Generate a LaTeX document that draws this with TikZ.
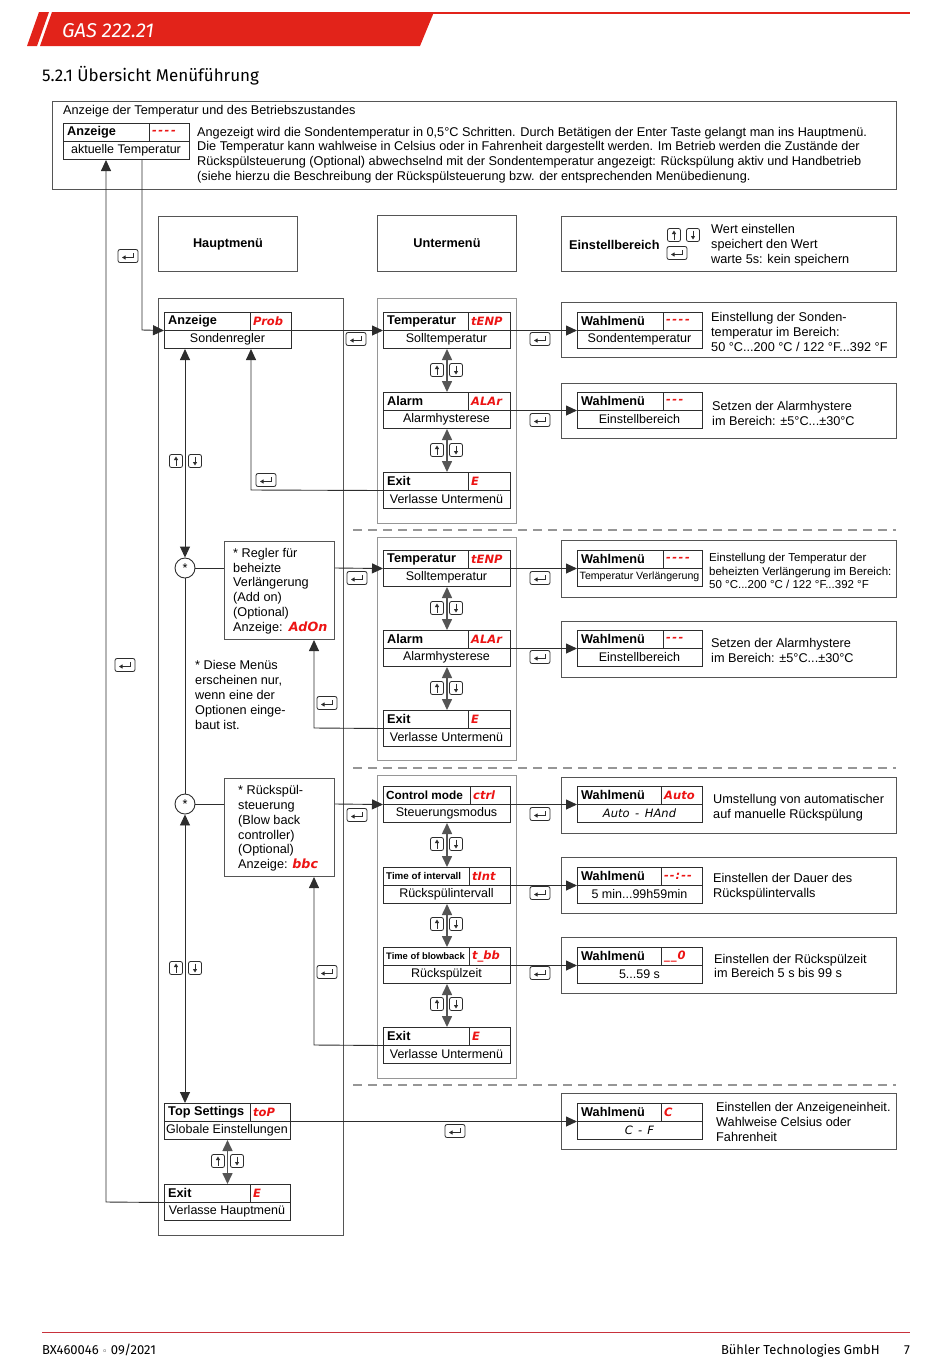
\documentclass[tikz,border=0pt]{standalone}
\usepackage{fontspec}
\setmainfont{Liberation Sans}
\newfontfamily\fira{Fira Sans}
\newfontfamily\segf{DejaVu Sans}
\newfontfamily\dejavu{DejaVu Sans}
\usetikzlibrary{arrows.meta}
\definecolor{hdrred}{RGB}{226,35,26}
\definecolor{segred}{RGB}{236,20,20}
\definecolor{dk}{RGB}{45,45,45}
\definecolor{mid}{RGB}{85,85,85}
\definecolor{lt}{RGB}{150,150,150}
\definecolor{ftred}{RGB}{200,50,60}
\newcommand\segtxt[1]{{\segf\bfseries\itshape\color{segred}#1}}
\newcommand\dbox[8]{%
  \node[dispbox, minimum width=#4pt, anchor=north west] (#1) at (#2,#3) {};
  \draw[boxline] (#1.west) -- (#1.east);
  \draw[boxline] (#5,#3) -- (#5,#3+18);
  \node[toplbl, anchor=west] (#1-t) at (#2+4,#3+9) {#6};
  \node[seg, anchor=west] (#1-r) at (#5+3,#3+9.5) {#7};
  \node[botlbl] (#1-b) at (#2+#4/2,#3+27) {#8};
}
\tikzset{
  boxline/.style={draw=dk, line width=1pt},
  dispbox/.style={draw=dk, line width=1pt, rectangle, inner sep=0pt, minimum height=36pt},
  frame/.style={draw=mid, line width=1pt, rectangle, inner sep=0pt, anchor=north west},
  lframe/.style={draw=lt, line width=1pt, rectangle, inner sep=0pt, anchor=north west},
  toplbl/.style={font=\fontsize{12.7}{14}\selectfont\bfseries, inner sep=0pt},
  botlbl/.style={font=\fontsize{12.5}{14}\selectfont, inner sep=0pt},
  seg/.style={font=\segf\bfseries\itshape\fontsize{11.5}{12}\selectfont, text=segred, inner sep=0pt},
  txt/.style={font=\fontsize{12.7}{14.8}\selectfont, inner sep=0pt, align=left, anchor=west},
  smtxt/.style={font=\fontsize{11.5}{13.5}\selectfont, inner sep=0pt, align=left, anchor=west},
  conn/.style={draw=dk, line width=0.9pt},
  arr/.style={conn, -{Triangle[length=11pt,width=10pt]}},
  mainarr/.style={conn, {Triangle[length=11pt,width=10pt]}-{Triangle[length=11pt,width=10pt]}},
  darr/.style={draw=mid, line width=1.6pt, {Triangle[length=11pt,width=10pt]}-{Triangle[length=11pt,width=10pt]}},
  dashsep/.style={draw=lt, line width=1.3pt, dash pattern=on 9pt off 6pt},
  star/.style={circle, draw=dk, line width=0.9pt, minimum size=20pt, inner sep=0pt, font=\fontsize{12.7}{12}\selectfont},
  upkey/.pic={\draw[draw=dk, line width=0.8pt, rounded corners=2pt, fill=white] (-6.5,-6.5) rectangle (6.5,6.5);
              \draw[draw=dk, line width=1pt, -{Triangle[length=3.5pt,width=4pt]}] (0,4.5) -- (0,-4.5);},
  downkey/.pic={\draw[draw=dk, line width=0.8pt, rounded corners=2pt, fill=white] (-6.5,-6.5) rectangle (6.5,6.5);
              \draw[draw=dk, line width=1pt, -{Triangle[length=3.5pt,width=4pt]}] (0,-4.5) -- (0,4.5);},
  enterkey/.pic={\draw[draw=dk, line width=0.8pt, rounded corners=2pt, fill=white] (-10,-6.5) rectangle (10,6.5);
              \draw[draw=dk, line width=1pt, -{Triangle[length=3.5pt,width=4pt]}] (5,-3) -- (5,1.5) -- (-6,1.5);},
}
\begin{document}
\begin{tikzpicture}[x=1pt,y=-1pt]
\useasboundingbox (0,0) rectangle (950,1369);
% header
\fill[hdrred] (39,12) -- (49,12) -- (37,46) -- (27,46) -- cycle;
\fill[hdrred] (52,12) -- (434,12) -- (420,46) -- (40,46) -- cycle;
\draw[hdrred, line width=2pt] (430,13) -- (910,13);
\node[font=\fira\itshape\fontsize{20}{20}\selectfont, text=white, anchor=base west, inner sep=0pt] (hdr) at (62,37) {GAS 222.21};
\node[font=\fira\fontsize{17}{20}\selectfont, anchor=base west, inner sep=0pt] (title) at (42,81) {5.2.1 Übersicht Menüführung};
% top box
\node[frame, minimum width=844pt, minimum height=88pt] (topbox) at (52,101) {};
\node[txt] (toptitle) at (63,111) {Anzeige der Temperatur und des Betriebszustandes};
\dbox{td}{63}{123}{126}{149}{Anzeige}{-\kern1.5pt-\kern1.5pt-\kern1.5pt-}{aktuelle Temperatur}
\node[txt] (toptext) at (197,155) {Angezeigt wird die Sondentemperatur in 0,5°C Schritten. Durch Betätigen der Enter Taste gelangt man ins Hauptmenü.\\
Die Temperatur kann wahlweise in Celsius oder in Fahrenheit dargestellt werden. Im Betrieb werden die Zustände der\\
Rückspülsteuerung (Optional) abwechselnd mit der Sondentemperatur angezeigt: Rückspülung aktiv und Handbetrieb\\
(siehe hierzu die Beschreibung der Rückspülsteuerung bzw. der entsprechenden Menübedienung.};
% column headers
\node[frame, minimum width=139pt, minimum height=55pt] (hm) at (158,216) {};
\node[toplbl] (hmt) at (hm.center) {Hauptmenü};
\node[frame, minimum width=139pt, minimum height=56pt] (um) at (377,215) {};
\node[toplbl] (umt) at (um.center) {Untermenü};
\node[frame, minimum width=335pt, minimum height=55pt] (eb) at (561,216) {};
\node[toplbl, anchor=west] (ebt) at (569,245) {Einstellbereich};
\node[txt] (ebx) at (711,245) {Wert einstellen\\ speichert den Wert\\ warte 5s: kein speichern};
% columns
\node[frame, minimum width=185pt, minimum height=937pt] (hcol) at (158,298) {};
\node[lframe, minimum width=139pt, minimum height=225pt] (ucol1) at (377,298) {};
\node[lframe, minimum width=139pt, minimum height=223pt] (ucol2) at (377,537) {};
\node[lframe, minimum width=139pt, minimum height=303pt] (ucol3) at (377,775) {};
% separators
\draw[dashsep] (353,530) -- (896,530);
\draw[dashsep] (353,768) -- (896,768);
\draw[dashsep] (353,1085) -- (896,1085);
% main menu boxes
\dbox{anz}{164}{312}{127}{250}{Anzeige}{Prob}{Sondenregler}
\dbox{ts}{164}{1103}{126}{250}{Top Settings}{toP}{Globale Einstellungen}
\dbox{eh}{164}{1184}{126}{250}{Exit}{E}{Verlasse Hauptmenü}
\node[star] (c1) at (185,568) {*};
\node[star] (c2) at (185,804) {*};
\node[frame, minimum width=110pt, minimum height=98pt] (rg) at (224,541) {};
\node[txt] (rgt) at (233,591) {* Regler für\\beheizte\\Verlängerung\\(Add on)\\(Optional)\\Anzeige:\enspace\segtxt{AdOn}};
\node[frame, minimum width=110pt, minimum height=98pt] (rb) at (224,778) {};
\node[txt] (rbt) at (238,828.5) {* Rückspül-\\steuerung\\(Blow back\\controller)\\(Optional)\\Anzeige: \segtxt{bbc}};
\node[txt] (note) at (195,695) {* Diese Menüs\\erscheinen nur,\\wenn eine der\\Optionen einge-\\baut ist.};
% submenu boxes
\dbox{t1}{383}{312}{127}{468}{Temperatur}{tENP}{Solltemperatur}
\dbox{a1}{383}{392}{127}{468}{Alarm}{ALAr}{Alarmhysterese}
\dbox{e1}{383}{472}{127}{468}{Exit}{E}{Verlasse Untermenü}
\dbox{t2}{383}{550}{127}{468}{Temperatur}{tENP}{Solltemperatur}
\dbox{a2}{383}{630}{127}{468}{Alarm}{ALAr}{Alarmhysterese}
\dbox{e2}{383}{710}{127}{468}{Exit}{E}{Verlasse Untermenü}
\dbox{cm}{383}{786}{127}{470}{\hspace*{-1pt}\fontsize{11.8}{12}\selectfont Control mode}{ctrl}{Steuerungsmodus}
\dbox{ti}{383}{867}{127}{469}{\hspace*{-1pt}\fontsize{9.8}{11}\selectfont Time of intervall}{tInt}{Rückspülintervall}
\dbox{tb}{383}{947}{127}{469}{\hspace*{-1pt}\fontsize{9.4}{11}\selectfont Time of blowback}{t\_bb}{Rückspülzeit}
\dbox{e3}{383}{1027}{127}{469}{Exit}{E}{Verlasse Untermenü}
% setting frames
\node[frame, minimum width=335pt, minimum height=55pt] (f1) at (561,302) {};
\node[frame, minimum width=335pt, minimum height=55pt] (f2) at (561,383) {};
\node[frame, minimum width=335pt, minimum height=57pt] (f3) at (561,540) {};
\node[frame, minimum width=335pt, minimum height=56pt] (f4) at (561,621) {};
\node[frame, minimum width=335pt, minimum height=56pt] (f5) at (561,777) {};
\node[frame, minimum width=335pt, minimum height=56pt] (f6) at (561,857) {};
\node[frame, minimum width=335pt, minimum height=56pt] (f7) at (561,937) {};
\node[frame, minimum width=335pt, minimum height=56pt] (f8) at (561,1093) {};
\dbox{w1}{577}{312}{125}{663}{Wahlmenü}{-\kern1.5pt-\kern1.5pt-\kern1.5pt-}{Sondentemperatur}
\dbox{w2}{577}{392}{125}{663}{Wahlmenü}{-\kern1.5pt-\kern1.5pt-}{Einstellbereich}
\dbox{w3}{577}{550}{125}{663}{Wahlmenü}{-\kern1.5pt-\kern1.5pt-\kern1.5pt-}{\fontsize{10.6}{11}\selectfont Temperatur Verlängerung}
\dbox{w4}{577}{630}{125}{663}{Wahlmenü}{-\kern1.5pt-\kern1.5pt-}{Einstellbereich}
\dbox{w5}{577}{786}{125}{661}{Wahlmenü}{Auto}{{\segf\itshape\fontsize{11.5}{12}\selectfont Auto\, -\, HAnd}}
\dbox{w6}{577}{867}{125}{661}{Wahlmenü}{-\kern1pt-\kern1pt:\kern1pt-\kern1pt-}{5 min...99h59min}
\dbox{w7}{577}{947}{125}{661}{Wahlmenü}{\_\kern1pt\_\kern1pt0}{5...59 s}
\dbox{w8}{577}{1103}{125}{661}{Wahlmenü}{C}{{\segf\itshape\fontsize{11.5}{12}\selectfont C\;\,-\;\,F}}
\node[txt] (x1) at (711,332) {Einstellung der Sonden-\\temperatur im Bereich:\\50 °C...200 °C / 122 °F...392 °F};
\node[txt] (x2) at (712,413.5) {Setzen der Alarmhystere\\im Bereich: ±5°C...±30°C};
\node[smtxt] (x3) at (709,571) {Einstellung der Temperatur der\\beheizten Verlängerung im Bereich:\\50 °C...200 °C / 122 °F...392 °F};
\node[txt] (x4) at (711,650.5) {Setzen der Alarmhystere\\im Bereich: ±5°C...±30°C};
\node[txt] (x5) at (713,807.5) {Umstellung von automatischer\\auf manuelle Rückspülung};
\node[txt] (x6) at (713,887) {Einstellen der Dauer des\\Rückspülintervalls};
\node[txt] (x7) at (714,966) {Einstellen der Rückspülzeit\\im Bereich 5 s bis 99 s};
\node[txt] (x8) at (716,1122) {Einstellen der Anzeigeneinheit.\\Wahlweise Celsius oder\\Fahrenheit};
% connectors
\coordinate (p1) at (142,330);
\draw[arr] (td.south -| p1) -- (p1) -- (anz.west);
\coordinate (p2) at (106,1202);
\draw[arr] (eh.west) -- (p2) -- (p2 |- td.south);
\draw[arr] (anz.east) -- (t1.west);
\draw[arr] (t1.east) -- (w1.west);
\draw[arr] (a1.east) -- (w2.west);
\draw[darr] (t1.south) -- (a1.north);
\draw[darr] (a1.south) -- (e1.north);
\coordinate (p3) at (251,490);
\draw[arr] (e1.west) -- (p3) -- (p3 |- anz.south);
\draw[mainarr] (anz.south -| c1) -- (c1.north);
\draw[conn] (c1.south) -- (c2.north);
\draw[mainarr] (c2.south) -- (ts.north -| c2);
\draw[conn] (c1.east) -- (c1 -| rg.west);
\draw[arr] (c1 -| rg.east) -- (t2.west);
\draw[arr] (t2.east) -- (w3.west);
\draw[arr] (a2.east) -- (w4.west);
\draw[darr] (t2.south) -- (a2.north);
\draw[darr] (a2.south) -- (e2.north);
\coordinate (p4) at (314,728);
\draw[arr] (e2.west) -- (p4) -- (p4 |- rg.south);
\draw[conn] (c2.east) -- (c2 -| rb.west);
\draw[arr] (c2 -| rb.east) -- (cm.west);
\draw[arr] (cm.east) -- (w5.west);
\draw[arr] (ti.east) -- (w6.west);
\draw[arr] (tb.east) -- (w7.west);
\draw[darr] (cm.south) -- (ti.north);
\draw[darr] (ti.south) -- (tb.north);
\draw[darr] (tb.south) -- (e3.north);
\coordinate (p5) at (314,1045);
\draw[arr] (e3.west) -- (p5) -- (p5 |- rb.south);
\draw[arr] (ts.east) -- (w8.west);
\draw[darr] (ts.south) -- (eh.north);
% keys
\foreach \kx/\ky in {128/256,356/339,540/339,540/420,266/480,125/665,357/578,540/578,540/657,327/703,357/815,540/814,540/893,327/972,540/973,455/1131,677/253}
  \pic at (\kx,\ky) {enterkey};
\foreach \kx/\ky in {176/461,437/370,437/450,437/608,437/688,176/968,437/844,437/924,437/1004,218/1161,674/235}
  {\pic at (\kx,\ky) {upkey}; \pic at (\kx+19,\ky) {downkey};}
% footer
\draw[ftred, line width=1pt] (42,1332) -- (910,1332);
\node[font=\fira\fontsize{13}{14}\selectfont, anchor=base west, inner sep=0pt] (ft1) at (42,1354) {BX460046 {\dejavu\fontsize{9}{10}\selectfont ◦} 09/2021};
\node[font=\fira\fontsize{13}{14}\selectfont, anchor=base east, inner sep=0pt] (ft2) at (880,1354) {Bühler Technologies GmbH};
\node[font=\fira\fontsize{13}{14}\selectfont, anchor=base east, inner sep=0pt] (ft3) at (910,1354) {7};
\end{tikzpicture}
\end{document}
